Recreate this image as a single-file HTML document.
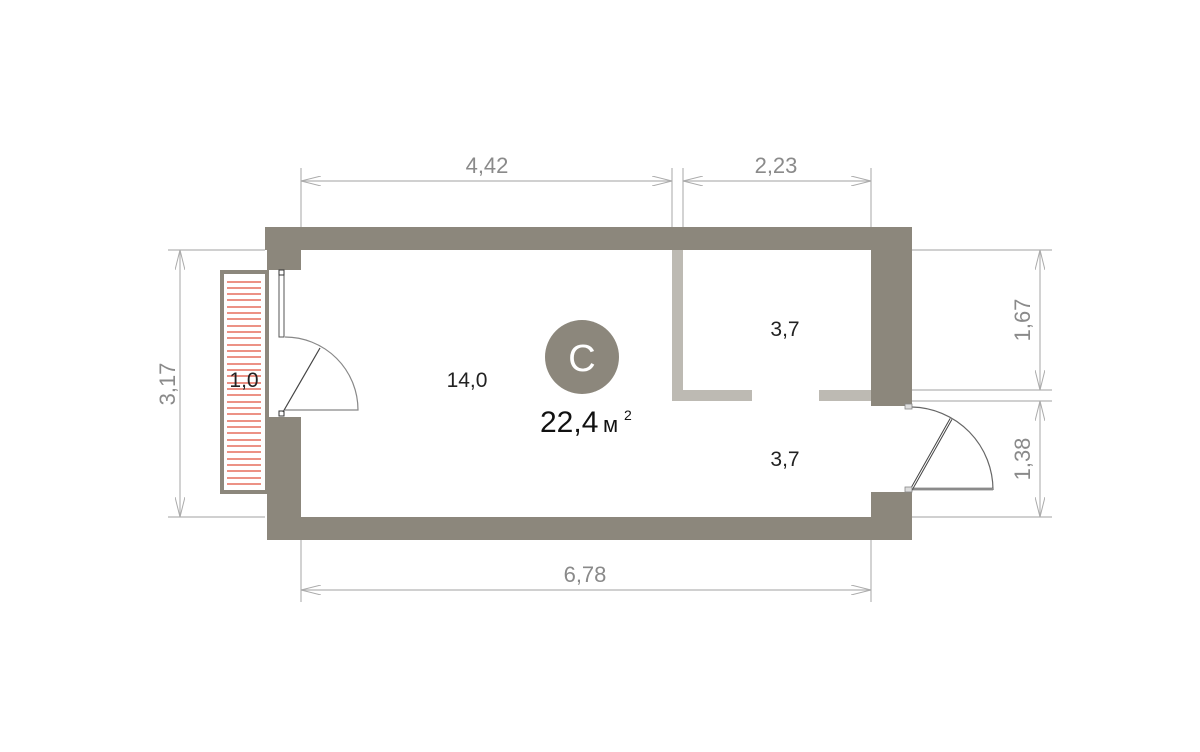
<!DOCTYPE html>
<html><head><meta charset="utf-8"><style>
html,body{margin:0;padding:0;background:#fff;width:1200px;height:752px;overflow:hidden}
svg{display:block}
text{font-family:"Liberation Sans",sans-serif}
</style></head><body>
<svg width="1200" height="752" viewBox="0 0 1200 752" xmlns="http://www.w3.org/2000/svg">
<defs>
<marker id="a" viewBox="0 0 20 10" refX="20" refY="5" markerWidth="20" markerHeight="10" markerUnits="userSpaceOnUse" orient="auto-start-reverse">
<polyline points="0,0 20,5 0,10" fill="none" stroke="#aaa" stroke-width="1"/>
</marker>
</defs>
<g stroke="#b5b5b5" stroke-width="1.2" fill="none">
<!-- extension lines -->
<line x1="301" y1="168" x2="301" y2="227"/><line x1="672" y1="168" x2="672" y2="227"/>
<line x1="683" y1="168" x2="683" y2="227"/><line x1="871" y1="168" x2="871" y2="227"/>
<line x1="301" y1="540" x2="301" y2="602"/><line x1="871" y1="540" x2="871" y2="602"/>
<line x1="168" y1="250" x2="265" y2="250"/><line x1="168" y1="517" x2="265" y2="517"/>
<line x1="912" y1="250" x2="1052" y2="250"/><line x1="912" y1="390" x2="1052" y2="390"/>
<line x1="912" y1="401" x2="1052" y2="401"/><line x1="912" y1="517" x2="1052" y2="517"/>
<!-- dim lines -->
<line x1="301" y1="181" x2="672" y2="181" marker-start="url(#a)" marker-end="url(#a)"/>
<line x1="683" y1="181" x2="871" y2="181" marker-start="url(#a)" marker-end="url(#a)"/>
<line x1="301" y1="590" x2="871" y2="590" marker-start="url(#a)" marker-end="url(#a)"/>
<line x1="180" y1="250" x2="180" y2="517" marker-start="url(#a)" marker-end="url(#a)"/>
<line x1="1040" y1="250" x2="1040" y2="390" marker-start="url(#a)" marker-end="url(#a)"/>
<line x1="1040" y1="401" x2="1040" y2="517" marker-start="url(#a)" marker-end="url(#a)"/>
</g>
<g fill="#8a8a8a" font-size="22" text-anchor="middle">
<text x="487" y="173">4,42</text>
<text x="776" y="173">2,23</text>
<text x="585" y="582">6,78</text>
<text transform="translate(175,384) rotate(-90)">3,17</text>
<text transform="translate(1030,320) rotate(-90)">1,67</text>
<text transform="translate(1030,459) rotate(-90)">1,38</text>
</g>
<!-- balcony -->
<rect x="222" y="272" width="45" height="220" fill="#fff" stroke="#8c877c" stroke-width="4"/>
<g stroke="#e0503c" stroke-width="1.2">
<line x1="227" y1="282" x2="261" y2="282"/><line x1="227" y1="288" x2="261" y2="288"/><line x1="227" y1="294" x2="261" y2="294"/><line x1="227" y1="300" x2="261" y2="300"/><line x1="227" y1="307" x2="261" y2="307"/><line x1="227" y1="313" x2="261" y2="313"/><line x1="227" y1="319" x2="261" y2="319"/><line x1="227" y1="326" x2="261" y2="326"/><line x1="227" y1="332" x2="261" y2="332"/><line x1="227" y1="338" x2="261" y2="338"/><line x1="227" y1="345" x2="261" y2="345"/><line x1="227" y1="351" x2="261" y2="351"/><line x1="227" y1="357" x2="261" y2="357"/><line x1="227" y1="364" x2="261" y2="364"/><line x1="227" y1="370" x2="261" y2="370"/><line x1="227" y1="376" x2="261" y2="376"/><line x1="227" y1="383" x2="261" y2="383"/><line x1="227" y1="389" x2="261" y2="389"/><line x1="227" y1="395" x2="261" y2="395"/><line x1="227" y1="402" x2="261" y2="402"/><line x1="227" y1="408" x2="261" y2="408"/><line x1="227" y1="414" x2="261" y2="414"/><line x1="227" y1="421" x2="261" y2="421"/><line x1="227" y1="427" x2="261" y2="427"/><line x1="227" y1="433" x2="261" y2="433"/><line x1="227" y1="440" x2="261" y2="440"/><line x1="227" y1="446" x2="261" y2="446"/><line x1="227" y1="452" x2="261" y2="452"/><line x1="227" y1="459" x2="261" y2="459"/><line x1="227" y1="465" x2="261" y2="465"/><line x1="227" y1="471" x2="261" y2="471"/><line x1="227" y1="478" x2="261" y2="478"/><line x1="227" y1="484" x2="261" y2="484"/>
</g>
<!-- walls -->
<g fill="#8c877c">
<rect x="265" y="227" width="647" height="23"/>
<rect x="267" y="227" width="34" height="43"/>
<rect x="267" y="417" width="34" height="123"/>
<rect x="267" y="517" width="645" height="23"/>
<rect x="871" y="227" width="41" height="179"/>
<rect x="871" y="492" width="41" height="48"/>
</g>
<g fill="#bdbab3">
<rect x="672" y="250" width="11" height="151"/>
<rect x="672" y="390" width="80" height="11"/>
<rect x="819" y="390" width="52" height="11"/>
</g>
<!-- left window/door -->
<rect x="279" y="271" width="5" height="66" fill="#fff" stroke="#555" stroke-width="1"/>
<rect x="279" y="270" width="5" height="5" fill="#fff" stroke="#333" stroke-width="1"/>
<rect x="279" y="411" width="5" height="5" fill="#fff" stroke="#333" stroke-width="1"/>
<path d="M285 337 A73 73 0 0 1 358 410 L285 410" fill="none" stroke="#888" stroke-width="1.2"/>
<line x1="283" y1="412" x2="320" y2="348" stroke="#444" stroke-width="1.2"/>
<!-- right door -->
<path d="M912 407 A83 83 0 0 1 993 490" fill="none" stroke="#666" stroke-width="1.2"/>
<line x1="912" y1="489" x2="993" y2="489" stroke="#444" stroke-width="2.5"/>
<line x1="912" y1="489" x2="993" y2="489" stroke="#fff" stroke-width="0.8"/>
<line x1="911" y1="490" x2="951" y2="419" stroke="#444" stroke-width="3"/>
<line x1="911" y1="490" x2="951" y2="419" stroke="#fff" stroke-width="1"/>
<rect x="905" y="404" width="7" height="5" fill="#ddd" stroke="#888" stroke-width="0.8"/>
<rect x="905" y="487" width="7" height="5" fill="#ddd" stroke="#888" stroke-width="0.8"/>
<!-- labels -->
<circle cx="582" cy="357" r="37" fill="#8c877c"/>
<text x="582" y="371" font-size="38" fill="#fff" text-anchor="middle">С</text>
<text x="540" y="432" font-size="30" fill="#111">22,4</text>
<text x="603" y="432" font-size="22" fill="#111">м</text>
<text x="624" y="420" font-size="14" fill="#111">2</text>
<g font-size="21" fill="#222" text-anchor="middle">
<text x="467" y="387">14,0</text>
<text x="785" y="336">3,7</text>
<text x="785" y="466">3,7</text>
<text x="244" y="387">1,0</text>
</g>
</svg>
</body></html>
